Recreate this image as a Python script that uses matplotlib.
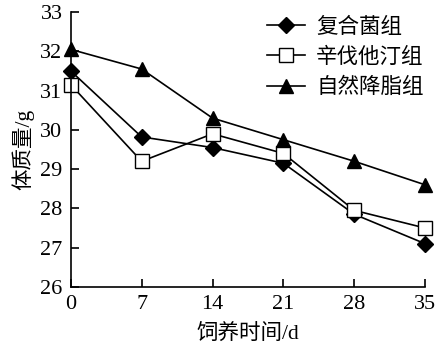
import matplotlib
matplotlib.use('Agg')
import matplotlib.pyplot as plt

plt.rcParams['font.family'] = ['Liberation Serif', 'Noto Sans CJK SC']

# 数据
days = [0, 7, 14, 21, 28, 35]
fuhe = [31.5, 29.82, 29.55, 29.15, 27.85, 27.1]
xinfa = [31.15, 29.2, 29.9, 29.4, 27.95, 27.5]
ziran = [32.05, 31.55, 30.3, 29.75, 29.2, 28.6]
labels = ['复合菌组', '辛伐他汀组', '自然降脂组']

fig = plt.figure(figsize=(4.37, 3.56), dpi=100)
ax = fig.add_axes([0.162, 0.194, 0.811, 0.772])

ax.plot(days, fuhe, color='black', lw=1.2, marker='D', ms=8,
        mfc='black', mec='black', label=labels[0])
ax.plot(days, xinfa, color='black', lw=1.2, marker='s', ms=10,
        mfc='white', mec='black', mew=1.0, label=labels[1])
ax.plot(days, ziran, color='black', lw=1.2, marker='^', ms=10,
        mfc='black', mec='black', label=labels[2])

ax.set_xlim(0, 35)
ax.set_ylim(26, 33)
ax.set_xticks(days)
ax.set_yticks(range(26, 34))
ax.spines['top'].set_visible(False)
ax.spines['right'].set_visible(False)
for s in ['left', 'bottom']:
    ax.spines[s].set_linewidth(1.2)
ax.tick_params(direction='in', length=6, width=1.2, labelsize=16, pad=6)
for line in ax.lines:
    line.set_clip_on(False)

ax.set_xlabel('饲养时间/d', fontsize=15.5, labelpad=7)
ax.set_ylabel('体质量/g', fontsize=15.5, labelpad=4)

ax.legend(loc='upper right', frameon=False, fontsize=15.5, handlelength=1.8,
          labelspacing=0.45, handletextpad=0.5, bbox_to_anchor=(1.05, 1.05))

fig.savefig('out.png', dpi=100)
